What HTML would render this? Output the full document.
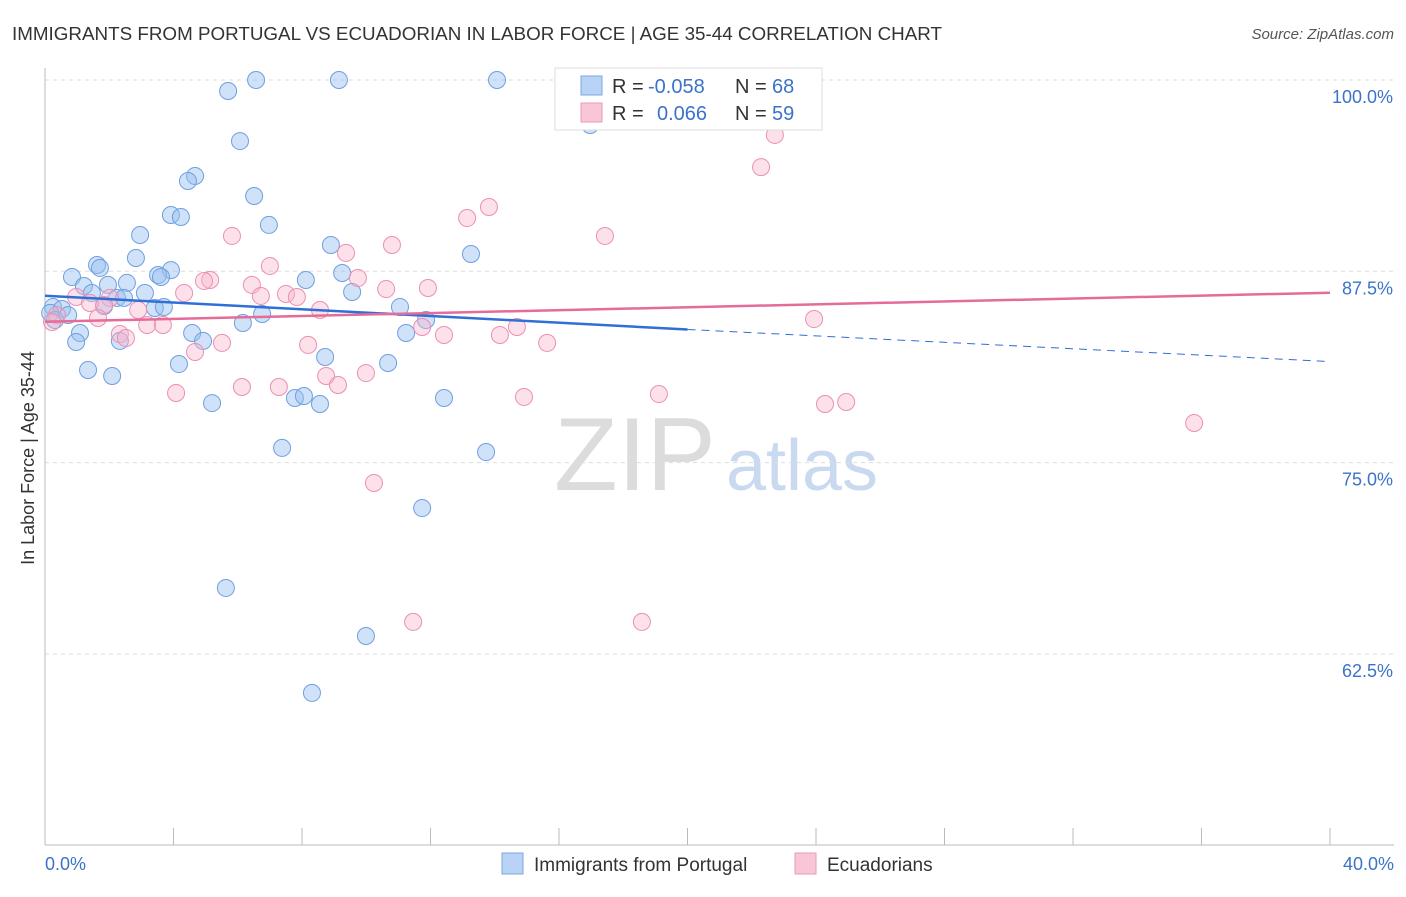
<!DOCTYPE html>
<html><head><meta charset="utf-8"><style>
body{margin:0;background:#fff;font-family:"Liberation Sans",sans-serif;}
svg text{font-family:"Liberation Sans",sans-serif;}
</style></head><body>
<svg id="chart" width="1406" height="892" xmlns="http://www.w3.org/2000/svg">
<text x="12" y="40" font-size="18" fill="#333" textLength="930" lengthAdjust="spacingAndGlyphs">IMMIGRANTS FROM PORTUGAL VS ECUADORIAN IN LABOR FORCE | AGE 35-44 CORRELATION CHART</text>
<text x="1394" y="39" font-size="15" fill="#555" font-style="italic" text-anchor="end">Source: ZipAtlas.com</text>
<text x="34" y="458" font-size="18" fill="#333" text-anchor="middle" transform="rotate(-90 34 458)">In Labor Force | Age 35-44</text>
<g><text x="635" y="490" font-size="104" fill="#dcdcdc" font-family="Liberation Serif" text-anchor="middle">ZIP</text><text x="802" y="490" font-size="72" fill="#c9d9ef" text-anchor="middle">atlas</text></g>
<g id="grid"></g><g id="axes"></g><g id="pts"></g><g id="trend"></g>
<g>
<rect x="555" y="68" width="267" height="62" fill="#fff" stroke="#ddd"/>
<rect x="581" y="76" width="21" height="19" fill="#b8d3f5" stroke="#7ba7e0"/>
<rect x="581" y="103" width="21" height="19" fill="#f9c6d6" stroke="#ec9ab5"/>
<text x="612" y="93" font-size="20" fill="#333">R =</text>
<text x="648" y="93" font-size="20" fill="#3b73c9">-0.058</text>
<text x="735" y="93" font-size="20" fill="#333">N =</text>
<text x="772" y="93" font-size="20" fill="#3b73c9">68</text>
<text x="612" y="120" font-size="20" fill="#333">R =</text>
<text x="657" y="120" font-size="20" fill="#3b73c9">0.066</text>
<text x="735" y="120" font-size="20" fill="#333">N =</text>
<text x="772" y="120" font-size="20" fill="#3b73c9">59</text>
</g>
<g>
<rect x="502" y="853" width="21" height="21" fill="#b8d3f5" stroke="#7ba7e0"/>
<text x="534" y="871" font-size="19" fill="#333">Immigrants from Portugal</text>
<rect x="795" y="853" width="21" height="21" fill="#f9c6d6" stroke="#ec9ab5"/>
<text x="827" y="871" font-size="19" fill="#333">Ecuadorians</text>
</g>
</svg>
<script>
const blueX=[6.57,9.15,14.07,5.70,6.07,16.97,4.67,4.45,6.51,3.92,4.23,6.97,2.96,8.90,13.26,2.83,1.62,1.71,3.92,3.52,3.61,0.84,8.12,9.25,2.55,1.96,1.21,3.11,9.56,1.46,2.24,2.46,0.25,0.53,1.84,3.42,3.70,11.05,6.76,6.16,11.86,0.72,0.16,0.31,4.58,11.24,1.09,0.97,2.33,4.92,8.72,10.68,4.17,1.34,2.09,5.20,7.78,8.06,8.56,12.42,7.38,13.73,11.74,5.63,9.99,8.31];
const blueY=[100,100,100,99.28,96.01,97.06,93.73,93.40,92.42,91.18,91.05,90.53,89.87,89.22,88.63,88.37,87.91,87.72,87.58,87.26,87.13,87.13,86.93,87.39,86.74,86.61,86.54,86.08,86.15,86.08,85.76,85.76,85.17,85.04,85.23,85.10,85.17,85.17,84.71,84.12,84.32,84.64,84.78,84.32,83.47,83.47,83.47,82.88,82.95,82.95,81.90,81.51,81.44,81.05,80.66,78.89,79.22,79.35,78.83,79.22,75.96,75.69,72.03,66.81,63.67,59.95];
const pinkX=[17.59,21.95,22.72,22.29,13.82,13.14,17.43,5.82,10.80,9.37,7.00,5.14,4.95,9.74,6.44,11.92,10.62,4.33,7.50,7.84,6.72,2.02,0.97,1.40,2.90,8.56,1.84,0.37,1.65,3.18,3.67,2.33,2.52,11.74,12.42,14.16,14.69,23.94,5.51,15.63,8.19,4.67,8.75,9.12,9.99,6.13,7.28,4.08,14.91,19.11,24.28,24.94,35.77,10.24,11.46,18.58,0.22];
const pinkY=[100,100,96.41,94.31,91.70,90.98,89.81,89.81,89.22,88.70,87.85,86.93,86.87,87.06,86.61,86.41,86.34,86.08,86.02,85.82,85.89,85.76,85.82,85.43,84.97,84.97,85.30,84.64,84.45,83.99,83.99,83.40,83.14,83.86,83.34,83.34,83.86,84.38,82.82,82.82,82.69,82.23,80.66,80.07,80.85,79.94,79.94,79.55,79.29,79.48,78.83,78.96,77.59,73.67,64.59,64.59,84.19];
const yTicks=[100,87.5,75,62.5];
const yTickLabels=["100.0%","87.5%","75.0%","62.5%"];
const xTickLabels=["0.0%","40.0%"];
const blueTrend=[[0,85.9],[20,83.7],[40,81.6]];
const pinkTrend=[[0,84.2],[40,86.1]];
const NS="http://www.w3.org/2000/svg";
const sx=v=>45+v/40*1285, sy=v=>80+(100-v)/12.5*191.3;
function mk(tag,attrs,parent){const e=document.createElementNS(NS,tag);for(const k in attrs)e.setAttribute(k,attrs[k]);document.getElementById(parent).appendChild(e);return e;}
yTicks.forEach((t,i)=>{
 const l=mk('line',{x1:45,x2:1394,y1:sy(t),y2:sy(t),stroke:'#ddd','stroke-dasharray':'4 4'},'grid');
 
 
 const tx=mk('text',{x:1393,y:sy(t)+23,'font-size':18,fill:'#3b73c9','text-anchor':'end'},'grid');
 tx.textContent=yTickLabels[i];
 
 
});
const ax=mk('line',{x1:45,x2:45,y1:68,y2:845,stroke:'#bbb'},'axes');


const bx=mk('line',{x1:45,x2:1394,y1:845,y2:845,stroke:'#bbb'},'axes');


for(let i=0;i<=10;i++){const t=mk('line',{x1:sx(i*4),x2:sx(i*4),y1:828,y2:845,stroke:'#bbb'},'axes');
 
 }
[[0,'start',45],[40,'end',1394]].forEach((d,i)=>{const t=mk('text',{x:d[2],y:870,'font-size':18,fill:'#3b73c9','text-anchor':d[1]},'axes');t.textContent=xTickLabels[i];
 
 });
blueX.forEach((x,i)=>{const c=mk('circle',{cx:sx(x),cy:sy(blueY[i]),r:8.5,fill:'rgba(150,190,240,0.45)',stroke:'#6f9fe0','stroke-width':1},'pts');
 
 });
pinkX.forEach((x,i)=>{const c=mk('circle',{cx:sx(x),cy:sy(pinkY[i]),r:8.5,fill:'rgba(248,180,205,0.4)',stroke:'#eb90b0','stroke-width':1},'pts');
 
 });
const b1=mk('line',{x1:sx(blueTrend[0][0]),y1:sy(blueTrend[0][1]),x2:sx(blueTrend[1][0]),y2:sy(blueTrend[1][1]),stroke:'#2f6fd6','stroke-width':2.5},'trend');


const b2=mk('line',{x1:sx(blueTrend[1][0]),y1:sy(blueTrend[1][1]),x2:sx(blueTrend[2][0]),y2:sy(blueTrend[2][1]),stroke:'#2f6fd6','stroke-width':1,'stroke-dasharray':'8 6'},'trend');


const p1=mk('line',{x1:sx(pinkTrend[0][0]),y1:sy(pinkTrend[0][1]),x2:sx(pinkTrend[1][0]),y2:sy(pinkTrend[1][1]),stroke:'#e56b9a','stroke-width':2.5},'trend');


</script>
</body></html>
